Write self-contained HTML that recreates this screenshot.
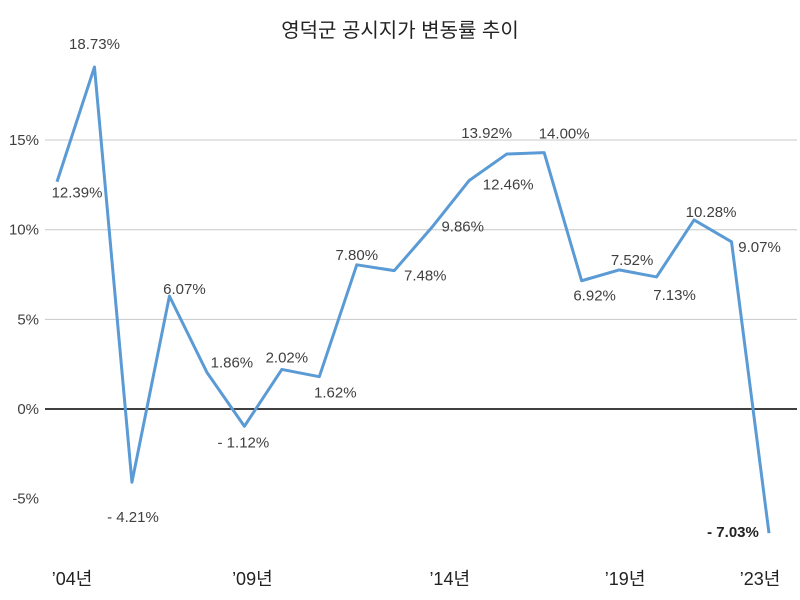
<!DOCTYPE html>
<html><head><meta charset="utf-8"><style>
body{margin:0;background:#fff}
svg{display:block;font-family:"Liberation Sans","Noto Sans CJK KR",sans-serif}
</style></head><body>
<svg id="c" width="800" height="600">
<text x="400" y="37" text-anchor="middle" font-size="20" fill="#222">영덕군 공시지가 변동률 추이</text>
<g id="grid"></g>
<g id="yl"></g>
<g id="xl"></g>
<g id="series"></g>
<g id="dl"></g>
</svg>
<script>
const years = [2004,2005,2006,2007,2008,2009,2010,2011,2012,2013,2014,2015,2016,2017,2018,2019,2020,2021,2022,2023];
const values = [12.39,18.73,-4.21,6.07,1.86,-1.12,2.02,1.62,7.80,7.48,9.86,12.46,13.92,14.00,6.92,7.52,7.13,10.28,9.07,-7.03];
const yTicks = [-5,0,5,10,15];
const xTickYears = [2004,2009,2014,2019,2023];
const xTickDx = [15,8,18,6,-9];
const labelDx = [20,0,1,15,25,-1,5,16,0,31,31,39,-20,20,13,13,18,17,28,-36];
const labelDy = [11,-23,35,-7,-10,16,-12,16,-10,5,-1,4,-21,-19,15,-10,18,-8,5,-1];

const NS="http://www.w3.org/2000/svg";
const x0=57,x1=769,yZero=409,pxPer=17.93;
const lineZero=406,linePx=18.1;
const xs=y=>x0+(y-years[0])*(x1-x0)/(years[years.length-1]-years[0]);
const ys=v=>yZero-v*pxPer;
const yl_=v=>lineZero-v*linePx;
function mk(t,a,p){const e=document.createElementNS(NS,t);for(const k in a)e.setAttribute(k,a[k]);p.appendChild(e);return e;}
const grid=document.getElementById('grid'),yl=document.getElementById('yl'),xl=document.getElementById('xl');
yTicks.forEach(t=>{
  if(t>0){const l=mk('line',{x1:45,x2:797,y1:ys(t),y2:ys(t),stroke:'#c8c8c8','stroke-width':1},grid);
  
  }
  const tx=mk('text',{x:39,y:ys(t)+5,'text-anchor':'end','font-size':15,fill:'#404040'},yl);
  tx.textContent=t+'%';
  
  
});
const zl=mk('line',{x1:45,x2:797,y1:ys(0),y2:ys(0),stroke:'#000','stroke-width':1.5},grid);


xTickYears.forEach((y,i)=>{
  const tx=mk('text',{x:xs(y)+xTickDx[i],y:585,'text-anchor':'middle','font-size':18,fill:'#222'},xl);
  tx.textContent='\u2019'+String(y).slice(2)+'년';
  
  
});
const pts=values.map((v,i)=>xs(years[i])+','+yl_(v)).join(' ');
const pl=mk('polyline',{points:pts,fill:'none',stroke:'#5b9bd5','stroke-width':3,'stroke-linejoin':'round'},document.getElementById('series'));


const dl=document.getElementById('dl');
values.forEach((v,i)=>{
  const last=i===values.length-1;
  const txt=(v<0?'- '+Math.abs(v).toFixed(2):v.toFixed(2))+'%';
  const tx=mk('text',{x:xs(years[i])+labelDx[i],y:yl_(v)+labelDy[i]+5,'text-anchor':'middle','font-size':15,fill:last?'#222':'#404040','font-weight':last?'bold':'normal'},dl);
  tx.textContent=txt;
  
  
});
</script>
</body></html>
